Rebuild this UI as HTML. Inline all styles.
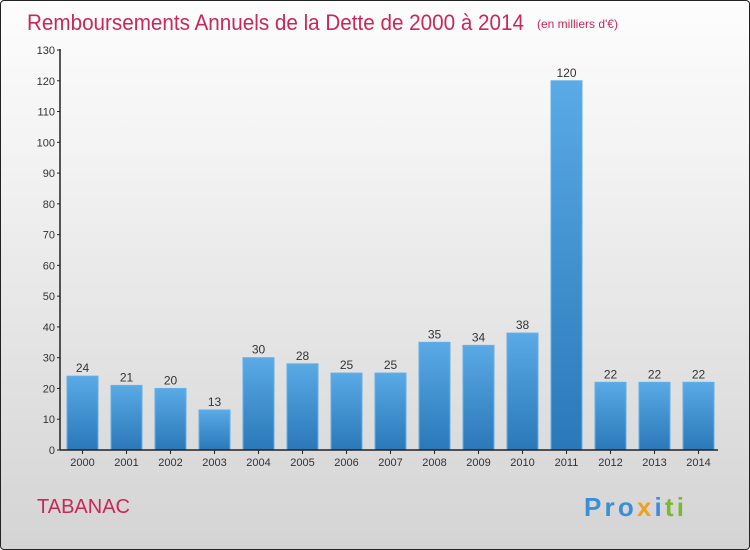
<!DOCTYPE html>
<html><head><meta charset="utf-8"><style>
html,body{margin:0;padding:0}
body{width:750px;height:550px;overflow:hidden;font-family:"Liberation Sans",sans-serif}
#wrap{position:absolute;left:0;top:0;width:748px;height:548px;border:1px solid #222;border-radius:4px;background:linear-gradient(#fdfdfd,#f2f2f2 30%,#dcdcdc 80%,#d4d4d4)}
</style></head><body>
<div id="wrap">
<svg width="750" height="550" id="svg" style="position:absolute;left:-1px;top:-1px">
<defs><linearGradient id="bg" x1="0" y1="0" x2="0" y2="1"><stop offset="0" stop-color="#5aaae6"/><stop offset="1" stop-color="#2a78b8"/></linearGradient></defs>
<text x="27" y="30" font-size="22" fill="#c8285a" textLength="497" lengthAdjust="spacingAndGlyphs">Remboursements Annuels de la Dette de 2000 à 2014</text>
<text x="537" y="28" font-size="12" fill="#c8285a">(en milliers d'€)</text>
<text x="37" y="513" font-size="20" fill="#c8285a" textLength="93" lengthAdjust="spacingAndGlyphs">TABANAC</text>
<text x="584" y="516" font-size="26" font-weight="bold" textLength="100"><tspan fill="#3a8fd8">Pro</tspan><tspan fill="#f0a020">x</tspan><tspan fill="#3a8fd8">i</tspan><tspan fill="#7ab830">ti</tspan></text>
<g id="g"></g>
</svg>
</div>
<script>
const categories=["2000","2001","2002","2003","2004","2005","2006","2007","2008","2009","2010","2011","2012","2013","2014"];
const values=[24,21,20,13,30,28,25,25,35,34,38,120,22,22,22];
const yTicks=[0,10,20,30,40,50,60,70,80,90,100,110,120,130];
const NS="http://www.w3.org/2000/svg";
const g=document.getElementById('g');
const y0=450,yMax=130,ph=400,x0=60;
const y=v=>y0-v/yMax*ph;
const xc=i=>82.5+i*44;
function mk(t,a){const e=document.createElementNS(NS,t);for(const k in a)e.setAttribute(k,a[k]);g.appendChild(e);return e;}
yTicks.forEach(v=>{
 const l=mk('line',{x1:57,x2:x0,y1:y(v),y2:y(v),stroke:'#222'});
 
 
 const t=mk('text',{x:55,y:y(v)+4,'text-anchor':'end','font-size':11,fill:'#333'});t.textContent=v;
 
 
});
categories.forEach((c,i)=>{
 const v=values[i];
 const r=mk('rect',{x:xc(i)-15.5,y:y(v),width:31,height:y0-y(v),fill:'url(#bg)',stroke:'#60b0ea','stroke-width':1});
 
 
 const t=mk('text',{x:xc(i),y:y(v)-4,'text-anchor':'middle','font-size':12,fill:'#333'});t.textContent=v;
 
 
 const tk=mk('line',{x1:xc(i),x2:xc(i),y1:y0,y2:y0+4,stroke:'#222'});
 
 
 const xl=mk('text',{x:xc(i),y:466,'text-anchor':'middle','font-size':11,fill:'#333'});xl.textContent=c;
 
 
});
const ya=mk('line',{x1:x0,x2:x0,y1:y(130)-1,y2:y0,stroke:'#222','stroke-width':1.5});


const xa=mk('line',{x1:x0,x2:718,y1:y0,y2:y0,stroke:'#222','stroke-width':1.5});


</script>
</body></html>
